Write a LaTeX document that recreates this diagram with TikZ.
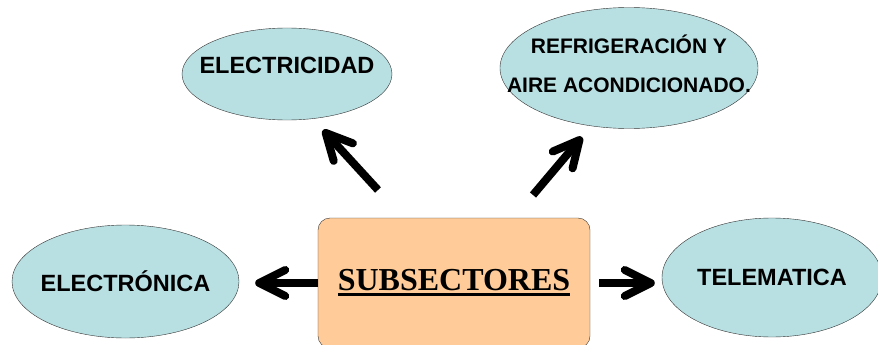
\documentclass[tikz,border=0pt]{standalone}
\usepackage{fontspec}
\setmainfont{Liberation Sans}
\newfontfamily\timesfont{Liberation Serif}
\usetikzlibrary{shapes.geometric,arrows.meta}
\definecolor{celeste}{RGB}{184,223,226}
\definecolor{durazno}{RGB}{255,204,153}
% thick underline
\newcommand{\subrayar}[1]{\setbox0\hbox{#1}\rlap{\rule[-5.5pt]{\wd0}{3pt}}\box0}

\begin{document}
\begin{tikzpicture}
        [x=1pt, y=-1pt,
        area/.style={ellipse, draw=black!80, fill=celeste, thin, inner sep=0pt},
        rotulo/.style={font=\fontsize{23.5}{28}\selectfont\bfseries},
        centro/.style={rectangle, rounded corners=12pt, draw=black!80, fill=durazno, thin,
          minimum width=272pt, minimum height=130pt, font=\timesfont\fontsize{32}{36}\selectfont\bfseries},
        flecha/.style={line width=8pt, -{Straight Barb[length=26pt, width=26pt, line cap=round, line join=round]}}]

        \useasboundingbox (0,0) rectangle (878,345);
        \clip (0,0) rectangle (878,345);

        % central box
        \node[centro] (sub) at (454,283) {\subrayar{SUBSECTORES}};

        % the four areas
        \node[area, minimum width=210pt, minimum height=92pt,
          label={[rotulo, yshift=9pt]center:ELECTRICIDAD}] (elec) at (287,74) {};
        \node[area, minimum width=258pt, minimum height=121pt,
          label={[font=\fontsize{21}{39}\selectfont\bfseries, align=center, yshift=4pt]center:REFRIGERACIÓN Y\\AIRE ACONDICIONADO.}] (refri) at (629,68) {};
        \node[area, minimum width=227pt, minimum height=113pt,
          label={[rotulo]center:ELECTRÓNICA}] (etro) at (125.5,281.5) {};
        \node[area, minimum width=220pt, minimum height=119pt,
          label={[rotulo]center:TELEMATICA}] (tele) at (772,277.5) {};

        % free ends of the slanted arrows
        \coordinate (c1) at (378,190);
        \coordinate (p1) at (323,130);
        \coordinate (c2) at (533,195);
        \coordinate (p2) at (582,137);

        % arrows
        \draw[flecha] (c1) -- (p1);
        \draw[flecha] (c2) -- (p2);
        \draw[flecha, shorten >=16pt] (sub.west) -- (sub.west -| etro.east);
        \draw[flecha, shorten <=9pt, shorten >=7pt] (sub.east) -- (sub.east -| tele.west);

\end{tikzpicture}
\end{document}
